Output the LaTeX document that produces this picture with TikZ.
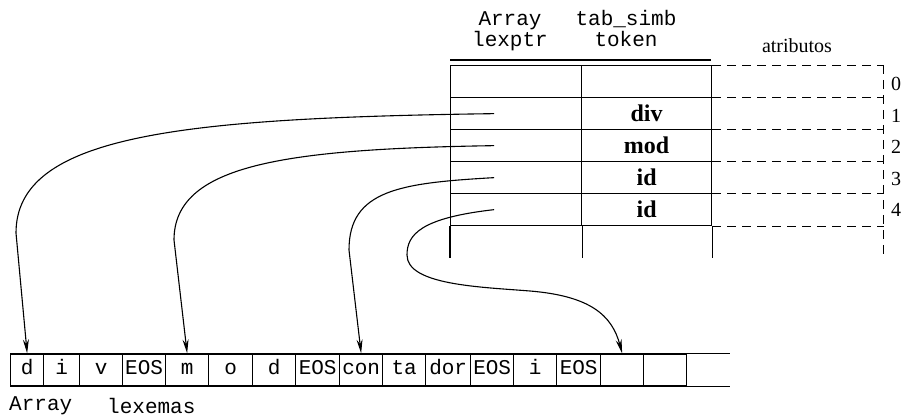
\documentclass[tikz,border=0pt]{standalone}
\usepackage{fontspec}
\setmainfont{Liberation Serif}
\setmonofont{Liberation Mono}
\usetikzlibrary{arrows.meta}
\tikzset{
	lexcell/.style={draw, line width=1.3pt, minimum height=32pt, inner sep=0pt, anchor=west, text height=12pt, text depth=3pt, font=\fontsize{21}{21}\selectfont\ttfamily},
	tabcell/.style={draw, line width=1.3pt, minimum width=131pt, minimum height=32pt, inner sep=0pt, anchor=north west, font=\fontsize{24}{24}\selectfont\bfseries},
	head/.style={align=center, inner sep=0pt, anchor=base, font=\fontsize{21}{21}\selectfont\ttfamily},
	attrline/.style={line width=0.9pt, dash pattern=on 9pt off 6pt},
	idx/.style={anchor=west, inner sep=0pt, font=\fontsize{20}{20}\selectfont},
	ptr/.style={line width=1.1pt, -{Stealth[length=14pt,width=6pt]}}
}

\begin{document}
\begin{tikzpicture}[x=1pt,y=-1pt]
			%%%%% START %%%%%
			\useasboundingbox (0,0) rectangle (905,419);
			
			% base of a two-line node is its last line
			\node[head] (hlex) at (510,47) {Array\\lexptr};
			\node[head] (htok) at (626,47) {tab\_simb\\token};
			\node[inner sep=0pt, anchor=base, font=\fontsize{20}{20}\selectfont] (hattr) at (797,53) {atributos};
			\draw[line width=2.5pt] (450,60) -- (711,60);
			
			\foreach \tok [count=\i from 0] in {{}, div, mod, id, id} {
				\node[tabcell] (l\i) at (450,65+32*\i) {};
				\node[tabcell, minimum width=130pt] (t\i) at (581,65+32*\i) {\tok};
				\coordinate (p\i) at ([xshift=-22]l\i.center);
				\draw[attrline] (t\i.north east) -- +(172,0);
				\node[idx] (n\i) at (891,84+31.5*\i) {\i};
			}
			\draw[line width=1.3pt] (l4.south west) -- +(0,32);
			\draw[line width=1.3pt] (l4.south east) -- +(0,32);
			\draw[line width=1.3pt] (t4.south east) -- +(0,32);
			\draw[attrline] (t4.south east) -- +(172,0);
			\draw[attrline] (883,65) -- (883,257);
			
			\foreach \l/\r/\t [count=\i from 0] in {10/43/d, 43/79/i, 79/122/v, 122/165/EOS, 165/208/m, 208/252/o, 252/295/d, 295/339/EOS, 339/382/con, 382/425/ta, 425/470/dor, 470/513/EOS, 513/556/i, 556/600/EOS, 600/643/{}, 643/686/{}}
				\node[lexcell, minimum width={(\r-\l)*1pt}] (c\i) at (\l,370) {\t};
			\draw[line width=1.3pt] (c15.north east) -- +(43,0);
			\draw[line width=1.3pt] (c15.south east) -- +(43,0);
			\node[anchor=west, inner sep=0pt, font=\fontsize{21}{21}\selectfont\ttfamily] (lexarr) at (9,406) {Array};
			\node[anchor=west, inner sep=0pt, font=\fontsize{21}{21}\selectfont\ttfamily] (lexname) at (107,406) {lexemas};
			
			\draw[ptr] (p1) .. controls (180,118) and (16,135) .. (16,233) -- (c0.north);
			\draw[ptr] (p2) .. controls (283,149) and (174,165) .. (174,240) -- (c4.north);
			\draw[ptr] (p3) .. controls (400,183) and (349,190) .. (349,250) -- (c8.north);
			\draw[ptr] (p4) .. controls (420,218) and (407,235) .. (407,255) .. controls (407,285) and (480,287) .. (530,291) .. controls (590,296) and (612,315) .. (c14.north);
			
			%%%%% END %%%%%
\end{tikzpicture}
\end{document}
